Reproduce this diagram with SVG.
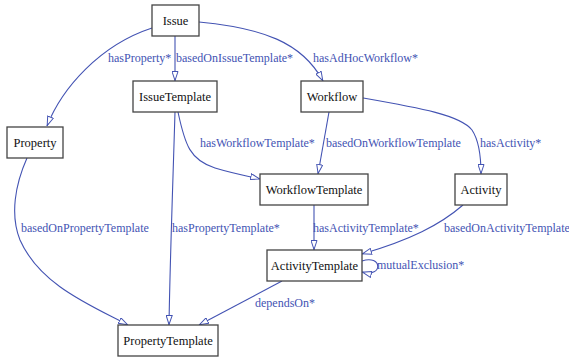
<svg xmlns="http://www.w3.org/2000/svg" width="569" height="358" viewBox="0 0 569 358">
<style>
.n rect{fill:#fff;stroke:#444;stroke-width:1.3}
.n text{font-family:"Liberation Serif","Times New Roman",serif;font-size:12.5px;fill:#111;text-anchor:middle}
.e path{fill:none;stroke:#4353b3;stroke-width:1.1;marker-end:url(#ah)}
.l{font-family:"Liberation Serif","Times New Roman",serif;font-size:12px;fill:#4353b3}
</style>
<defs>
<marker id="ah" viewBox="0 0 10 7" refX="10" refY="3.5" markerWidth="10" markerHeight="7" markerUnits="userSpaceOnUse" orient="auto">
<path d="M0.5,0.5 L9.5,3.5 L0.5,6.5 Z" fill="#fff" stroke="#4353b3" stroke-width="1"/>
</marker>
</defs>
<rect width="569" height="358" fill="#fff"/>
<g id="edges" class="e">
<path d="M152,28 C100,45 62,88 47,126"/>
<path d="M175,36 L175,81"/>
<path d="M199,22 C262,28 302,42 323,81"/>
<path d="M175,112 C173,180 170,260 169,325"/>
<path d="M178,112 C185,145 190,160 215,168 C235,174 248,176 260,179"/>
<path d="M329,112 L318,174"/>
<path d="M363,98 C420,108 460,115 472,130 C480,142 481,160 481,174"/>
<path d="M27,158 C15,185 10,215 20,240 C40,285 90,305 128,325"/>
<path d="M314,205 L314,250"/>
<path d="M463,205 C440,225 410,240 362,254"/>
<path d="M362,261 C382,254 384,278 362,272"/>
<path d="M282,281 L199,325"/>
</g>
<g id="labels">
<text class="l" x="108" y="62">hasProperty*</text>
<text class="l" x="176" y="62">basedOnIssueTemplate*</text>
<text class="l" x="313" y="62">hasAdHocWorkflow*</text>
<text class="l" x="200" y="147">hasWorkflowTemplate*</text>
<text class="l" x="326" y="147">basedOnWorkflowTemplate</text>
<text class="l" x="480" y="147">hasActivity*</text>
<text class="l" x="21" y="232">basedOnPropertyTemplate</text>
<text class="l" x="172" y="232">hasPropertyTemplate*</text>
<text class="l" x="313" y="232">hasActivityTemplate*</text>
<text class="l" x="444" y="232">basedOnActivityTemplate</text>
<text class="l" x="377" y="269">mutualExclusion*</text>
<text class="l" x="255" y="307">dependsOn*</text>
</g>
<g id="Issue" class="n"><rect x="152" y="5" width="47" height="31"/><text x="175.5" y="25">Issue</text></g>
<g id="IssueTemplate" class="n"><rect x="133" y="81" width="84" height="31"/><text x="175" y="101">IssueTemplate</text></g>
<g id="Workflow" class="n"><rect x="301" y="81" width="62" height="31"/><text x="332" y="101">Workflow</text></g>
<g id="Property" class="n"><rect x="7" y="127" width="56" height="31"/><text x="35" y="147">Property</text></g>
<g id="WorkflowTemplate" class="n"><rect x="260" y="174" width="108" height="31"/><text x="314" y="194">WorkflowTemplate</text></g>
<g id="Activity" class="n"><rect x="455" y="174" width="52" height="31"/><text x="481" y="194">Activity</text></g>
<g id="ActivityTemplate" class="n"><rect x="267" y="250" width="95" height="31"/><text x="314.5" y="270">ActivityTemplate</text></g>
<g id="PropertyTemplate" class="n"><rect x="118" y="325" width="100" height="31"/><text x="168" y="345">PropertyTemplate</text></g>
</svg>
